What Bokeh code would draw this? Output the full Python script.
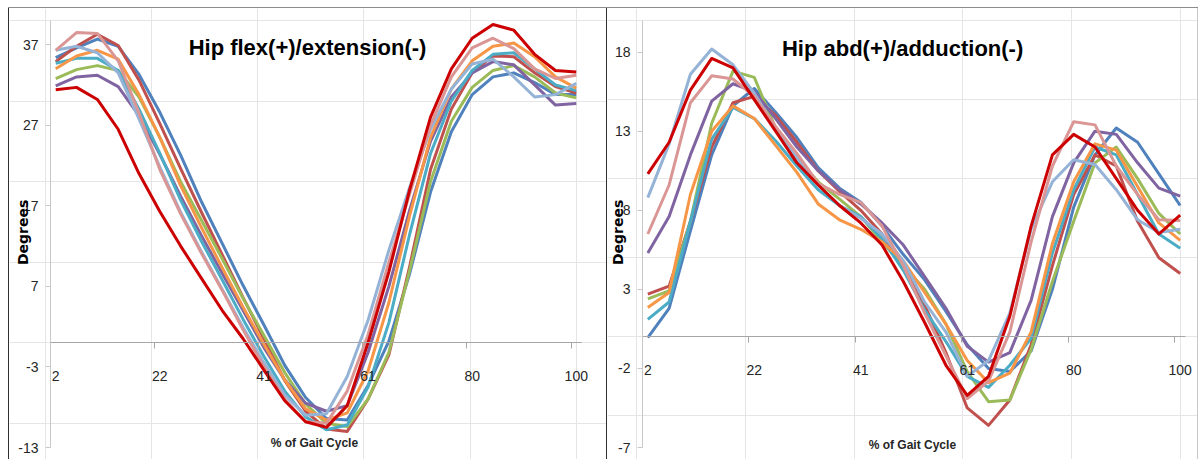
import math
from bokeh.plotting import figure
from bokeh.models import Range1d, FixedTicker, LinearAxis, Label, Spacer, ColumnDataSource
from bokeh.layouts import row, column
from bokeh.embed import file_html
from bokeh.resources import INLINE

# ---------------- data ----------------
gait_pct = [2, 5.92, 9.84, 13.76, 17.68, 21.6, 25.52, 29.44, 33.36, 37.28, 41.2, 45.12, 49.04,
            52.96, 56.88, 60.8, 64.72, 68.64, 72.56, 76.48, 80.4, 84.32, 88.24, 92.16, 96.08, 100]
x_tick_values = [2, 21.6, 41.2, 60.8, 80.4, 100]
x_tick_labels = ["2", "22", "41", "61", "80", "100"]

flex_ticks = [-13, -3, 7, 17, 27, 37]
abd_ticks = [-7, -2, 3, 8, 13, 18]

series_colors = ["#4F81BD", "#C0504D", "#9BBB59", "#8064A2", "#4BACC6", "#F79646",
                 "#95B3D7", "#DA9694", "#CC0000"]

flex_blue = [35.4, 36.6, 37.7, 36.8, 33.3, 28.6, 23.3, 17.5, 12.3, 7.1, 2.2, -2.8, -6.8, -9.4, -9.6, -5.3, 0.2, 8.6, 18.7, 26.2, 30.8, 33.0, 33.5, 32.3, 30.8, 30.8]
flex_brown = [34.9, 36.8, 38.3, 36.9, 32.6, 27.2, 21.6, 16.2, 10.9, 5.6, 0.5, -4.7, -8.5, -10.7, -11.0, -7.0, -1.5, 9.5, 21.5, 29.0, 33.5, 35.6, 35.5, 33.5, 31.8, 31.0]
flex_green = [32.8, 33.9, 34.4, 33.8, 30.5, 25.5, 20.0, 15.2, 10.4, 5.5, 0.9, -3.7, -7.6, -10.0, -10.4, -7.0, -1.2, 9.0, 20.0, 27.5, 31.7, 33.8, 34.4, 33.0, 31.0, 30.4]
flex_purple = [31.9, 33.0, 33.2, 31.8, 28.2, 23.4, 18.2, 13.3, 8.6, 4.0, -0.6, -4.6, -7.5, -8.5, -7.8, -1.2, 7.0, 16.5, 25.0, 30.5, 33.5, 34.9, 34.5, 32.0, 29.5, 29.7]
flex_aqua = [34.7, 35.3, 35.3, 33.8, 29.0, 23.5, 17.7, 12.6, 7.8, 2.9, -1.7, -6.0, -9.2, -10.8, -10.2, -5.5, 2.5, 13.5, 23.5, 30.0, 33.8, 35.8, 36.0, 34.0, 32.0, 31.3]
flex_orange = [34.0, 35.6, 36.3, 35.2, 30.8, 25.5, 19.5, 14.3, 9.3, 4.4, -0.2, -4.6, -8.2, -9.6, -8.7, -3.5, 5.0, 15.8, 25.5, 31.5, 35.0, 36.8, 37.2, 35.5, 33.0, 31.6]
flex_lblue = [36.3, 36.8, 36.0, 33.5, 27.8, 21.8, 16.2, 11.3, 6.6, 1.9, -2.5, -6.5, -9.0, -8.8, -4.2, 2.8, 11.5, 19.3, 26.5, 31.5, 34.6, 35.2, 33.0, 30.5, 30.8, 32.2]
flex_pink = [36.3, 38.5, 38.4, 35.0, 28.5, 21.5, 16.0, 11.1, 6.5, 1.6, -3.0, -7.0, -9.8, -10.0, -6.0, 1.0, 10.0, 18.5, 27.0, 33.0, 36.6, 37.8, 36.5, 34.0, 32.8, 33.2]
flex_red = [31.4, 31.7, 30.2, 26.5, 21.0, 16.3, 12.0, 8.0, 4.0, 0.5, -3.4, -7.2, -9.8, -10.5, -7.8, 0.0, 8.8, 19.0, 28.0, 34.0, 37.8, 39.5, 38.8, 35.8, 33.8, 33.6]

abd_blue = [-0.05, 1.8, 6.7, 11.5, 14.6, 15.7, 14.2, 12.6, 10.7, 9.4, 8.5, 7.0, 5.2, 3.6, 1.6, -0.5, -2.0, -2.2, -0.9, 3.0, 8.2, 11.5, 13.2, 12.3, 10.3, 8.3]
abd_brown = [2.7, 3.2, 7.3, 12.0, 14.8, 15.2, 14.0, 12.3, 10.5, 9.2, 8.0, 6.5, 4.5, 2.0, -1.0, -4.5, -5.6, -4.0, -0.5, 4.5, 9.0, 11.5, 10.8, 7.3, 5.0, 4.0]
abd_green = [2.4, 2.9, 7.3, 13.5, 16.8, 16.4, 13.2, 11.3, 9.8, 8.7, 7.6, 6.0, 4.5, 3.0, 0.8, -2.2, -4.1, -4.0, -0.8, 3.5, 7.3, 11.0, 12.0, 10.0, 7.8, 6.5]
abd_purple = [5.3, 7.6, 11.5, 14.9, 16.0, 15.5, 13.8, 12.0, 10.5, 9.3, 8.4, 7.2, 5.8, 3.8, 1.8, -0.6, -1.6, -1.0, 2.3, 7.6, 11.0, 13.0, 12.8, 11.0, 9.4, 8.9]
abd_aqua = [1.1, 2.2, 7.3, 12.5, 14.5, 13.8, 12.4, 10.8, 9.3, 8.3, 7.6, 6.2, 4.2, 1.7, -0.3, -2.5, -3.2, -1.8, -0.1, 5.3, 9.3, 12.0, 11.5, 9.0, 6.5, 5.6]
abd_orange = [1.85, 2.8, 9.0, 13.0, 14.6, 13.8, 12.1, 10.4, 8.4, 7.4, 6.8, 6.0, 4.8, 2.8, 0.8, -1.5, -2.9, -2.3, 0.3, 5.9, 9.8, 12.2, 11.8, 9.5, 7.2, 6.1]
abd_lblue = [8.8, 12.2, 16.6, 18.2, 17.2, 15.4, 13.2, 11.3, 9.6, 8.3, 7.5, 6.5, 4.8, 2.2, 0.3, -2.5, -1.5, 1.5, 6.8, 9.8, 11.2, 10.9, 9.3, 7.4, 6.6, 6.8]
abd_pink = [6.5, 9.6, 14.8, 16.5, 16.3, 15.2, 13.3, 11.6, 9.7, 9.0, 8.5, 7.0, 4.5, 1.5, -1.2, -3.9, -2.8, 0.3, 6.0, 10.8, 13.6, 13.4, 10.8, 9.0, 7.4, 7.35]
abd_red = [10.3, 12.3, 15.6, 17.6, 17.0, 15.0, 13.0, 11.0, 9.6, 8.3, 7.2, 5.8, 3.5, 0.9, -1.8, -3.7, -2.5, 1.3, 7.0, 11.5, 12.8, 12.0, 10.0, 8.0, 6.5, 7.7]

flex_series = [flex_blue, flex_brown, flex_green, flex_purple, flex_aqua, flex_orange,
               flex_lblue, flex_pink, flex_red]
abd_series = [abd_blue, abd_brown, abd_green, abd_purple, abd_aqua, abd_orange,
              abd_lblue, abd_pink, abd_red]

# ---------------- styling / layout ----------------
SANS = "'Liberation Sans', Arial, sans-serif"
BOLDF = "'DejaVu Sans', sans-serif"
AXIS_GREY = "#A6A6A6"
YAXIS_GREY = "#C8C8C8"
TEXT = "#262626"
HALF_CAT = 0.98  # half of one category width (51 categories spaced 1.96 apart)
FIG_H = 451
PLOT_TOP = 12      # px from figure top to axis top
PLOT_H = 427       # px height of the value axis


def make_panel(title, series, y_lo, y_hi, yticks, fig_w, plot_left, plot_w,
               title_pos, deg_pos, xlab_pos):
    x0 = gait_pct[0] - HALF_CAT
    x1 = gait_pct[-1] + HALF_CAT
    sx = plot_w / (x1 - x0)
    sy = PLOT_H / (y_hi - y_lo)
    xs = x0 - plot_left / sx
    xe = xs + fig_w / sx
    ye = y_hi + PLOT_TOP / sy
    ys = ye - FIG_H / sy

    p = figure(output_backend="svg", toolbar_location=None,
               frame_width=fig_w, frame_height=FIG_H,
               min_border_left=0, min_border_right=0,
               min_border_top=0, min_border_bottom=0,
               x_range=Range1d(xs, xe), y_range=Range1d(ys, ye),
               x_axis_location=None, y_axis_location=None)
    p.outline_line_color = None
    p.background_fill_color = "white"
    p.border_fill_color = "white"

    ya = LinearAxis(fixed_location=x0, bounds=(y_lo, y_hi),
                    ticker=FixedTicker(ticks=yticks),
                    major_label_overrides={t: str(t) for t in yticks},
                    major_tick_out=5, major_tick_in=0, minor_tick_line_color=None,
                    axis_line_color=YAXIS_GREY, major_tick_line_color=YAXIS_GREY,
                    major_label_text_font=SANS, major_label_text_font_size="14px",
                    major_label_text_color=TEXT, major_label_standoff=7)
    p.add_layout(ya, "left")

    tick_marks = [v - HALF_CAT for v in x_tick_values]
    ax_t = LinearAxis(fixed_location=0, bounds=(x0, x1), ticker=FixedTicker(ticks=tick_marks),
                      axis_line_color=AXIS_GREY, major_tick_line_color=AXIS_GREY,
                      major_tick_out=6, major_tick_in=0, minor_tick_line_color=None,
                      major_label_text_font_size="0px", major_label_text_color=None)
    p.add_layout(ax_t, "below")
    ax_l = LinearAxis(fixed_location=0, ticker=FixedTicker(ticks=x_tick_values),
                      major_label_overrides=dict(zip(x_tick_values, x_tick_labels)),
                      axis_line_color=None, major_tick_line_color=None,
                      minor_tick_line_color=None, major_tick_out=0, major_tick_in=0,
                      major_label_standoff=28, major_label_text_font=SANS,
                      major_label_text_font_size="14px", major_label_text_color=TEXT)
    p.add_layout(ax_l, "below")

    for vals, col in zip(series, series_colors):
        src = ColumnDataSource(dict(x=gait_pct, y=vals))
        p.line("x", "y", source=src, line_color=col, line_width=3, line_join="round")

    p.add_layout(Label(x=title_pos[0], y=title_pos[1], text=title, text_font=SANS,
                       text_font_style="bold", text_font_size="22px", text_color="black",
                       text_align="center", text_baseline="middle"))
    p.add_layout(Label(x=deg_pos[0], y=deg_pos[1], text="Degrees", angle=math.pi / 2,
                       text_font=BOLDF, text_font_style="bold", text_font_size="14px",
                       text_color="black", text_align="center", text_baseline="middle"))
    p.add_layout(Label(x=xlab_pos[0], y=xlab_pos[1], text="% of Gait Cycle",
                       text_font=SANS, text_font_style="bold", text_font_size="12px",
                       text_color=TEXT, text_align="center", text_baseline="middle"))
    return p


p1 = make_panel("Hip flex(+)/extension(-)", flex_series, -13, 40, flex_ticks,
                597, 41, 531, (49.4, 36.6), (-4.25, 13.7), (50.7, -12.5))
p2 = make_panel("Hip abd(+)/adduction(-)", abd_series, -7, 20, abd_ticks,
                590, 35, 543, (48.9, 18.2), (-3.4, 6.6), (50.7, -6.87))


def vline(color):
    return Spacer(width=1, height=FIG_H, styles={"background-color": color})


layout = column(
    Spacer(width=1198, height=7),
    row(Spacer(width=8, height=1), Spacer(width=1190, height=1, styles={"background-color": "#8C8C8C"})),
    row(Spacer(width=8, height=FIG_H), vline("#303030"), p1, vline("#303030"), p2, vline("#C8C8C8")),
)

open("out.html", "w").write(file_html(layout, INLINE))
